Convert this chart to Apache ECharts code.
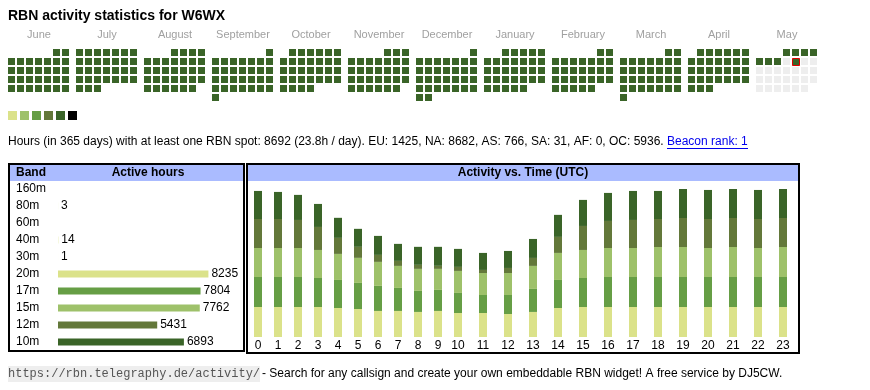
<!DOCTYPE html>
<html><head><meta charset="utf-8">
<script src="https://cdn.jsdelivr.net/npm/echarts@6.0.0/dist/echarts.min.js"></script>
<style>html,body{margin:0;padding:0;background:#fff}#c{width:870px;height:390px}</style>
</head><body><div id="c"></div>
<script>
// ---------- data ----------
const titleText = 'RBN activity statistics for W6WX';
const monthKeys = ['2024-06','2024-07','2024-08','2024-09','2024-10','2024-11','2024-12','2025-01','2025-02','2025-03','2025-04','2025-05'];
const monthNames = ['June','July','August','September','October','November','December','January','February','March','April','May'];
// one digit per day: activity level (0 = no data)
const monthLevels = [
  '555555555555555555555555555555',
  '5555555555555555555555555555555',
  '5555555555555555555555555555555',
  '555555555555555555555555555555',
  '5555555555555555555555555555555',
  '555555555555555555555555555555',
  '5555555555555555555555555555555',
  '5555555555555555555555555555555',
  '5555555555555555555555555555',
  '5555555555555555555555555555555',
  '555555555555555555555555555555',
  '5555555050000000000000000000000'
];
const todayDate = '2025-05-09';
const levelValues = [1, 2, 3, 4, 5, 6];

const bands = ['160m','80m','60m','40m','30m','20m','17m','15m','12m','10m'];
const bandHours = [null, 3, null, 14, 1, 8235, 7804, 7762, 5431, 6893];

const hours = ['0','1','2','3','4','5','6','7','8','9','10','11','12','13','14','15','16','17','18','19','20','21','22','23'];
const days20m = [365,365,365,365,353,341,317,317,305,317,292,292,280,305,353,365,365,365,365,365,365,365,365,365];
const days17m = [365,365,365,353,341,317,305,280,256,256,244,219,231,280,341,353,365,365,365,365,365,365,365,365];
const days15m = [353,353,353,341,317,305,292,268,268,256,268,268,268,280,329,341,353,353,365,365,353,365,353,365];
const days12m = [353,353,341,280,195,134,85,61,49,37,49,37,61,97,195,292,329,341,341,353,353,353,353,353];
const days10m = [341,329,305,280,244,219,231,207,219,231,219,207,207,231,268,317,341,353,341,353,353,353,353,353];

const summaryText = 'Hours (in 365 days) with at least one RBN spot: 8692 (23.8h / day). EU: 1425, NA: 8682, AS: 766, SA: 31, AF: 0, OC: 5936.';
const linkText = 'Beacon rank: 1';
const footerUrl = 'https://rbn.telegraphy.de/activity/';
const footerText = '- Search for any callsign and create your own embeddable RBN widget! A free service by DJ5CW.';

// ---------- styles ----------
const F = "'Liberation Sans', Arial, Helvetica, sans-serif";
const levelColors = ['#dbe28a', '#9ec16a', '#669e45', '#63783a', '#3a6428', '#000000'];
const bandColor = {'160m':'#dbe28a','80m':'#dbe28a','60m':'#dbe28a','40m':'#dbe28a','30m':'#dbe28a',
  '20m':'#dbe28a','17m':'#669e45','15m':'#9ec16a','12m':'#63783a','10m':'#3a6428'};
const headerBlue = '#aabbff';

const chart = echarts.init(document.getElementById('c'), null, {renderer: 'canvas'});

// calendars
const calendars = [];
const calSeries = [];
monthKeys.forEach((key, i) => {
  calendars.push({
    orient: 'vertical', range: key, cellSize: [9, 9],
    left: 7 + 68 * i, top: 48,
    dayLabel: {show: false, firstDay: 1}, monthLabel: {show: false}, yearLabel: {show: false},
    splitLine: {show: false},
    itemStyle: {color: 'rgba(0,0,0,0)', borderWidth: 0}
  });
  const lv = monthLevels[i];
  const data = [];
  for (let d = 1; d <= lv.length; d++) {
    const date = key + '-' + String(d).padStart(2, '0');
    const item = {value: [date, Number(lv[d - 1])]};
    if (date === todayDate) {
      item.itemStyle = {borderColor: '#e00000', borderWidth: 1, opacity: 1};
      item.symbolOffset = [0.5, 0.5];
    }
    data.push(item);
  }
  calSeries.push({
    type: 'scatter', coordinateSystem: 'calendar', calendarIndex: i,
    symbol: 'rect', symbolSize: 7, silent: true, itemStyle: {opacity: 1}, data: data
  });
});

// band bar
const bandSeries = {
  type: 'bar', xAxisIndex: 0, yAxisIndex: 0, barWidth: 7, silent: true,
  data: bandHours.map((v, i) => ({value: v, itemStyle: {color: bandColor[bands[i]]}})),
  label: {show: true, position: 'right', distance: 3, color: '#000', fontSize: 12, fontFamily: F,
    formatter: p => (p.value == null ? '' : String(p.value))}
};

// hour stacks (two grids: 0-9 narrow columns, 10-23 wide columns)
const stacks = [['20m', days20m], ['17m', days17m], ['15m', days15m], ['12m', days12m], ['10m', days10m]];
const hourSeries = [];
[[0, 10, 1], [10, 24, 2]].forEach(([a, b, gi]) => {
  stacks.forEach(([band, arr]) => {
    hourSeries.push({
      type: 'bar', xAxisIndex: gi, yAxisIndex: gi, stack: 's' + gi, barWidth: 8, silent: true,
      itemStyle: {color: bandColor[band]}, data: arr.slice(a, b)
    });
  });
});

const series = [bandSeries].concat(hourSeries, calSeries);
const calIdx = calSeries.map((s, i) => 1 + hourSeries.length + i);

function txt(x, y, text, font, fill, align, extra) {
  return Object.assign({type: 'text', x: x, y: y, silent: true,
    style: {text: text, font: font, fill: fill, align: align || 'left', textAlign: align || 'left',
      verticalAlign: 'middle', textVerticalAlign: 'middle'}}, extra || {});
}

const graphics = [];
graphics.push(txt(8, 16, titleText, 'bold 14px ' + F, '#000'));
monthNames.forEach((m, i) => graphics.push(txt(8 + 68 * i + 31, 35, m, '11px ' + F, '#a0a0a0', 'center')));
graphics.push(txt(8, 142, summaryText, '12px ' + F, '#000'));
graphics.push(txt(667, 142, linkText, '12px ' + F, '#0000ee'));
graphics.push({type: 'line', silent: true, shape: {x1: 667, y1: 148.5, x2: 748, y2: 148.5}, style: {stroke: '#0000ee', lineWidth: 1}});
// headers
graphics.push({type: 'rect', silent: true, z: 1, shape: {x: 10, y: 165, width: 233, height: 16}, style: {fill: headerBlue}});
graphics.push({type: 'rect', silent: true, z: 1, shape: {x: 248, y: 165, width: 550, height: 16}, style: {fill: headerBlue}});
graphics.push(txt(16, 173, 'Band', 'bold 12px ' + F, '#000', 'left', {z: 2}));
graphics.push(txt(148, 173, 'Active hours', 'bold 12px ' + F, '#000', 'center', {z: 2}));
graphics.push(txt(523, 173, 'Activity vs. Time (UTC)', 'bold 12px ' + F, '#000', 'center', {z: 2}));
// borders
graphics.push({type: 'rect', silent: true, z: 3, shape: {x: 9, y: 164, width: 235, height: 187}, style: {fill: null, stroke: '#000', lineWidth: 2}});
graphics.push({type: 'rect', silent: true, z: 3, shape: {x: 247, y: 164, width: 552, height: 189}, style: {fill: null, stroke: '#000', lineWidth: 2}});
// footer
graphics.push({type: 'rect', silent: true, shape: {x: 8, y: 366, width: 252, height: 16}, style: {fill: '#eeeeee'}});
graphics.push(txt(8, 374, footerUrl, "12px 'Liberation Mono', 'DejaVu Sans Mono', monospace", '#555'));
graphics.push(txt(262, 374, footerText, '12px ' + F, '#000'));

const option = {
  animation: false,
  backgroundColor: '#fff',
  calendar: calendars,
  visualMap: {
    type: 'piecewise', seriesIndex: calIdx, dimension: 1, orient: 'horizontal',
    left: 8, top: 111, padding: 0, itemWidth: 9, itemHeight: 9, itemGap: 3,
    itemSymbol: 'rect', showLabel: false, selectedMode: false, hoverLink: false,
    pieces: levelValues.map((v, i) => ({value: v, color: levelColors[i]})),
    outOfRange: {color: '#eeeeee'}
  },
  grid: [
    {left: 58, top: 180.5, width: 160, height: 170},
    {left: 248, top: 187, width: 200, height: 150},
    {left: 445.5, top: 187, width: 350, height: 150}
  ],
  xAxis: [
    {type: 'value', gridIndex: 0, min: 0, max: 8760, show: false},
    {type: 'category', gridIndex: 1, data: hours.slice(0, 10), axisLine: {show: false}, axisTick: {show: false},
      axisLabel: {interval: 0, margin: 3, fontSize: 12, fontFamily: F, color: '#000'}},
    {type: 'category', gridIndex: 2, data: hours.slice(10), axisLine: {show: false}, axisTick: {show: false},
      axisLabel: {interval: 0, margin: 3, fontSize: 12, fontFamily: F, color: '#000'}}
  ],
  yAxis: [
    {type: 'category', gridIndex: 0, data: bands, inverse: true, axisLine: {show: false}, axisTick: {show: false},
      axisLabel: {align: 'left', margin: 42, fontSize: 12, fontFamily: F, color: '#000'}},
    {type: 'value', gridIndex: 1, min: 0, max: 1825, show: false},
    {type: 'value', gridIndex: 2, min: 0, max: 1825, show: false}
  ],
  graphic: {elements: graphics},
  series: series
};
chart.setOption(option);
</script></body></html>
